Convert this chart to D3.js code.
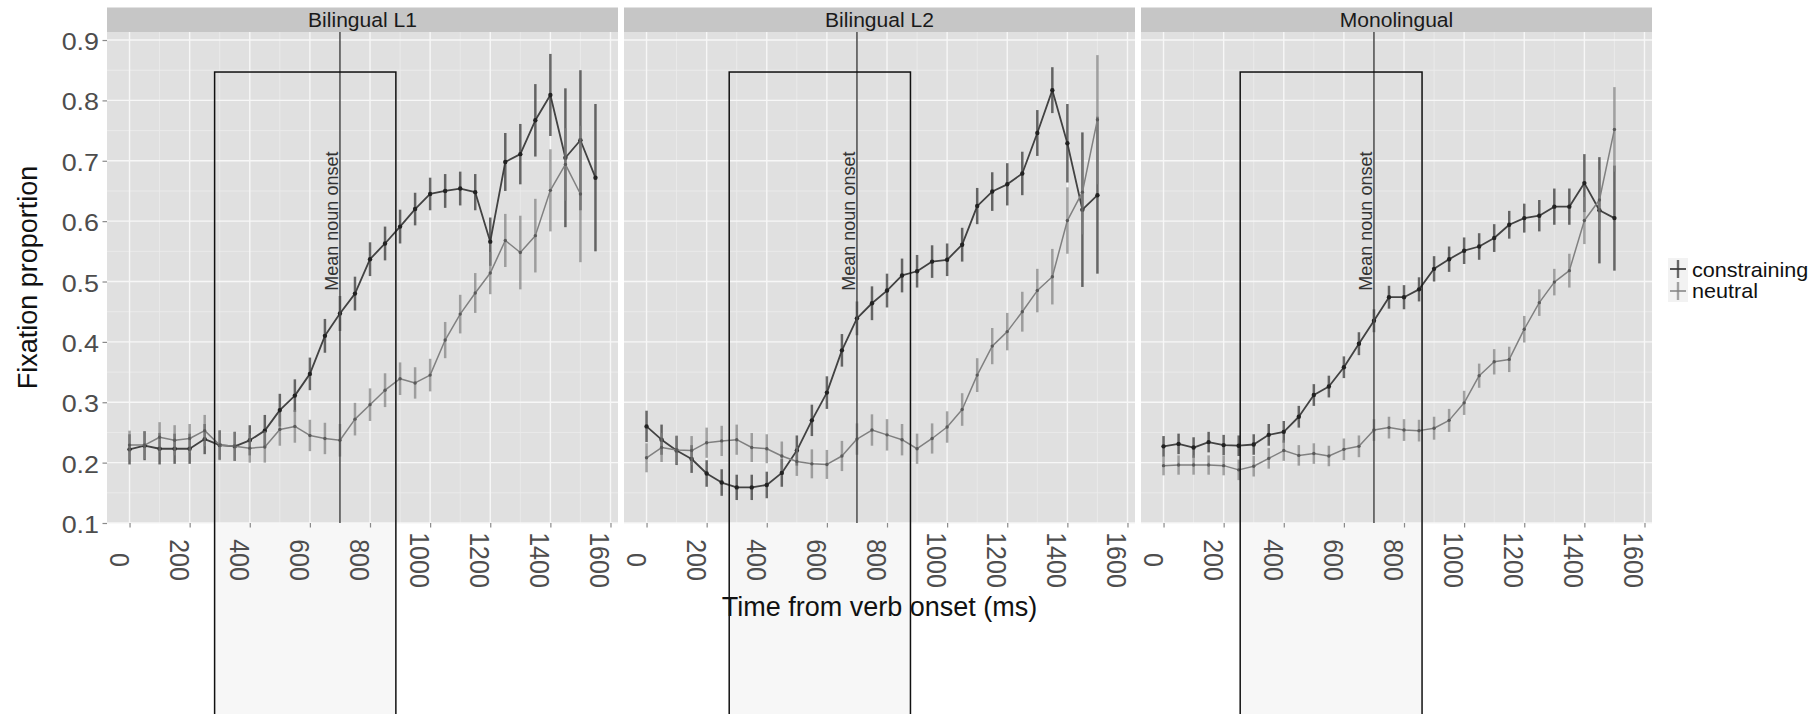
<!DOCTYPE html>
<html>
<head>
<meta charset="utf-8">
<script src="https://cdn.jsdelivr.net/npm/d3@7"></script>
<style>
  body { margin: 0; background: #ffffff; }
  svg { display: block; }
  text { font-family: "Liberation Sans", Arial, Helvetica, sans-serif; }
</style>
</head>
<body>
<svg id="chart" width="1814" height="714"></svg>
<script>
// ---- data -------------------------------------------------------------
const panels = ["Bilingual L1", "Bilingual L2", "Monolingual"];
const conditions = ["constraining", "neutral"];

const times = [0, 50, 100, 150, 200, 250, 300, 350, 400, 450, 500, 550, 600, 650, 700, 750,
               800, 850, 900, 950, 1000, 1050, 1100, 1150, 1200, 1250, 1300, 1350, 1400, 1450, 1500, 1550];

// Bilingual L1
const constrainingL1 = [0.222, 0.228, 0.223, 0.223, 0.223, 0.239, 0.229, 0.227, 0.237, 0.253, 0.287, 0.311, 0.347, 0.410, 0.447, 0.480,
                        0.537, 0.563, 0.591, 0.620, 0.645, 0.650, 0.654, 0.648, 0.566, 0.698, 0.711, 0.767, 0.809, 0.705, 0.734, 0.672];
const constrainingL1Se = [0.025, 0.024, 0.026, 0.025, 0.025, 0.025, 0.024, 0.024, 0.025, 0.026, 0.027, 0.027, 0.027, 0.028, 0.029, 0.028,
                          0.028, 0.028, 0.028, 0.027, 0.027, 0.028, 0.028, 0.030, 0.040, 0.048, 0.050, 0.060, 0.068, 0.115, 0.116, 0.122];
const neutralL1 = [0.229, 0.229, 0.242, 0.237, 0.240, 0.253, 0.229, 0.227, 0.224, 0.226, 0.255, 0.260, 0.245, 0.240, 0.237, 0.272,
                   0.296, 0.320, 0.339, 0.332, 0.345, 0.403, 0.446, 0.481, 0.514, 0.568, 0.548, 0.576, 0.651, 0.694, 0.645];
const neutralL1Se = [0.024, 0.023, 0.025, 0.025, 0.024, 0.026, 0.025, 0.024, 0.024, 0.026, 0.027, 0.027, 0.026, 0.026, 0.027, 0.027,
                     0.027, 0.028, 0.027, 0.026, 0.027, 0.030, 0.032, 0.033, 0.035, 0.044, 0.061, 0.061, 0.068, 0.060, 0.113];

// Bilingual L2
const constrainingL2 = [0.260, 0.238, 0.220, 0.206, 0.182, 0.167, 0.159, 0.159, 0.163, 0.183, 0.220, 0.270, 0.316, 0.386, 0.439, 0.464,
                        0.485, 0.510, 0.517, 0.533, 0.536, 0.561, 0.625, 0.649, 0.661, 0.679, 0.746, 0.817, 0.729, 0.619, 0.643];
const constrainingL2Se = [0.026, 0.025, 0.024, 0.023, 0.022, 0.022, 0.021, 0.021, 0.022, 0.023, 0.025, 0.026, 0.027, 0.027, 0.028, 0.028,
                          0.028, 0.028, 0.027, 0.027, 0.027, 0.028, 0.030, 0.032, 0.035, 0.036, 0.038, 0.038, 0.065, 0.128, 0.130];
const neutralL2 = [0.208, 0.225, 0.221, 0.220, 0.233, 0.236, 0.238, 0.225, 0.223, 0.211, 0.202, 0.198, 0.197, 0.211, 0.239, 0.254,
                   0.246, 0.238, 0.223, 0.240, 0.259, 0.288, 0.345, 0.393, 0.417, 0.450, 0.485, 0.508, 0.601, 0.648, 0.768];
const neutralL2Se = [0.024, 0.024, 0.024, 0.024, 0.025, 0.025, 0.025, 0.024, 0.024, 0.024, 0.024, 0.024, 0.024, 0.025, 0.026, 0.026,
                     0.026, 0.026, 0.025, 0.025, 0.026, 0.027, 0.028, 0.030, 0.031, 0.033, 0.036, 0.046, 0.055, 0.070, 0.107];

// Monolingual
const constrainingMono = [0.227, 0.231, 0.225, 0.234, 0.229, 0.228, 0.230, 0.246, 0.251, 0.276, 0.312, 0.326, 0.358, 0.397, 0.435, 0.474,
                          0.474, 0.487, 0.521, 0.537, 0.551, 0.558, 0.572, 0.594, 0.605, 0.609, 0.624, 0.624, 0.663, 0.618, 0.605];
const constrainingMonoSe = [0.017, 0.017, 0.017, 0.017, 0.017, 0.017, 0.017, 0.018, 0.018, 0.018, 0.018, 0.018, 0.018, 0.019, 0.019, 0.019,
                            0.020, 0.020, 0.021, 0.021, 0.022, 0.022, 0.023, 0.023, 0.024, 0.026, 0.030, 0.030, 0.048, 0.088, 0.087];
const neutralMono = [0.195, 0.196, 0.196, 0.196, 0.195, 0.188, 0.194, 0.207, 0.220, 0.212, 0.215, 0.211, 0.222, 0.227, 0.254, 0.258,
                     0.254, 0.253, 0.257, 0.270, 0.299, 0.344, 0.367, 0.371, 0.421, 0.465, 0.499, 0.518, 0.601, 0.635, 0.752];
const neutralMonoSe = [0.016, 0.016, 0.016, 0.016, 0.016, 0.017, 0.017, 0.017, 0.017, 0.017, 0.017, 0.017, 0.018, 0.018, 0.018, 0.018,
                       0.018, 0.018, 0.019, 0.019, 0.020, 0.020, 0.021, 0.021, 0.022, 0.022, 0.022, 0.028, 0.039, 0.050, 0.070];

// annotations (ms / proportion)
const nounOnset = 700;
const windowStart = [283, 275, 255];
const windowEnd = [886, 878, 860];
const windowTop = 0.847;

// axis ticks
const xTicks = [0, 200, 400, 600, 800, 1000, 1200, 1400, 1600];
const yTicks = [0.1, 0.2, 0.3, 0.4, 0.5, 0.6, 0.7, 0.8, 0.9];
const xDomain = [-75, 1625];
const yDomain = [0.1, 0.9133];

// ---- layout -----------------------------------------------------------
const W = 1814, H = 714;
const stripTop = 7.5, panelTop = 32, panelBottom = 523;
const panelLefts = [107, 624, 1141];
const panelW = 511;

const series = [
  { constraining: constrainingL1, constrainingSe: constrainingL1Se, neutral: neutralL1, neutralSe: neutralL1Se },
  { constraining: constrainingL2, constrainingSe: constrainingL2Se, neutral: neutralL2, neutralSe: neutralL2Se },
  { constraining: constrainingMono, constrainingSe: constrainingMonoSe, neutral: neutralMono, neutralSe: neutralMonoSe }
];

const style = {
  constraining: { line: "#424242", lw: 1.8, bar: "#3a3a3a", barOp: 0.75, dot: "#222222", r: 2.2 },
  neutral:      { line: "#808080", lw: 1.5, bar: "#808080", barOp: 0.7, dot: "#5a5a5a", r: 1.7 }
};

const svg = d3.select("#chart");
const y = d3.scaleLinear().domain(yDomain).range([panelBottom, panelTop]);
const xMinor = d3.pairs(xTicks).map(([a, b]) => (a + b) / 2);
const yMinor = d3.pairs(yTicks).map(([a, b]) => (a + b) / 2);

const xScales = panelLefts.map(l => d3.scaleLinear().domain(xDomain).range([l, l + panelW]));

// window shading sits underneath the panels, so it only shows below them
const shade = svg.append("g");
panels.forEach((name, p) => {
  const x = xScales[p];
  shade.append("rect")
    .attr("x", x(windowStart[p])).attr("y", y(windowTop))
    .attr("width", x(windowEnd[p]) - x(windowStart[p]))
    .attr("height", H - y(windowTop) + 4)
    .attr("fill", "#f7f7f7");
});

panels.forEach((name, p) => {
  const x = xScales[p];
  const g = svg.append("g");

  // strip
  g.append("rect").attr("x", x.range()[0]).attr("y", stripTop)
    .attr("width", panelW).attr("height", panelTop - stripTop).attr("fill", "#c6c6c6");
  g.append("text")
    .attr("transform", `translate(${x.range()[0] + panelW / 2},27.3) scale(1.08,1)`)
    .attr("text-anchor", "middle").attr("font-size", 19.5).attr("fill", "#1a1a1a")
    .text(name);

  // panel background + grid
  g.append("rect").attr("x", x.range()[0]).attr("y", panelTop)
    .attr("width", panelW).attr("height", panelBottom - panelTop).attr("fill", "#e0e0e0");
  const grid = g.append("g");
  grid.selectAll(".xmin").data(xMinor).join("line")
    .attr("x1", d => x(d)).attr("x2", d => x(d)).attr("y1", panelTop).attr("y2", panelBottom)
    .attr("stroke", "#ebebeb").attr("stroke-width", 0.9);
  grid.selectAll(".ymin").data(yMinor).join("line")
    .attr("x1", x.range()[0]).attr("x2", x.range()[1]).attr("y1", d => y(d)).attr("y2", d => y(d))
    .attr("stroke", "#ebebeb").attr("stroke-width", 0.9);
  grid.selectAll(".xmaj").data(xTicks).join("line")
    .attr("x1", d => x(d)).attr("x2", d => x(d)).attr("y1", panelTop).attr("y2", panelBottom)
    .attr("stroke", "#f7f7f7").attr("stroke-width", 1.4);
  grid.selectAll(".ymaj").data(yTicks).join("line")
    .attr("x1", x.range()[0]).attr("x2", x.range()[1]).attr("y1", d => y(d)).attr("y2", d => y(d))
    .attr("stroke", "#f7f7f7").attr("stroke-width", 1.4);

  // x axis
  const xAxis = g.append("g").attr("transform", `translate(0,${panelBottom})`)
    .call(d3.axisBottom(x).tickValues(xTicks).tickSize(4.5).tickPadding(0).tickFormat(d3.format("d")));
  xAxis.select(".domain").remove();
  xAxis.selectAll(".tick line").attr("stroke", "#8a8a8a").attr("stroke-width", 1.2);
  xAxis.selectAll(".tick text")
    .attr("y", null).attr("dy", null)
    .attr("transform", "translate(-20.5,37) rotate(90) scale(1,1.12)")
    .attr("text-anchor", "middle")
    .attr("font-size", 25).attr("fill", "#4d4d4d");

  // data: lines, error bars, points
  const s = series[p];
  conditions.forEach(c => {
    const vals = s[c], se = s[c + "Se"], st = style[c];
    const pts = vals.map((v, i) => ({ t: times[i], v, e: se[i] }));
    const sg = g.append("g");
    sg.append("path").datum(pts)
      .attr("d", d3.line().x(d => x(d.t)).y(d => y(d.v)))
      .attr("fill", "none").attr("stroke", st.line).attr("stroke-width", st.lw)
      .attr("stroke-linejoin", "round");
    sg.selectAll(".eb").data(pts).join("line")
      .attr("x1", d => x(d.t)).attr("x2", d => x(d.t))
      .attr("y1", d => y(d.v - d.e)).attr("y2", d => y(d.v + d.e))
      .attr("stroke", st.bar).attr("stroke-opacity", st.barOp).attr("stroke-width", 2.5);
    sg.selectAll(".pt").data(pts).join("circle")
      .attr("cx", d => x(d.t)).attr("cy", d => y(d.v)).attr("r", st.r)
      .attr("fill", st.dot);
  });

  // noun onset line + label
  g.append("line")
    .attr("x1", x(nounOnset)).attr("x2", x(nounOnset))
    .attr("y1", panelTop).attr("y2", panelBottom)
    .attr("stroke", "#4a4a4a").attr("stroke-width", 1.5);
  g.append("text")
    .attr("transform", `translate(${x(nounOnset) - 2},${y(0.6)}) rotate(-90)`)
    .attr("text-anchor", "middle").attr("font-size", 18).attr("fill", "#333333")
    .text("Mean noun onset");
});

// y axis (left of first panel)
const yAxis = svg.append("g").attr("transform", `translate(${panelLefts[0]},0)`)
  .call(d3.axisLeft(y).tickValues(yTicks).tickSize(4.5).tickPadding(0).tickFormat(d3.format(".1f")));
yAxis.select(".domain").remove();
yAxis.selectAll(".tick line").attr("stroke", "#8a8a8a").attr("stroke-width", 1.2);
yAxis.selectAll(".tick text")
  .attr("x", null).attr("dy", null)
  .attr("transform", "translate(-8,9.5) scale(1.12,1)")
  .attr("text-anchor", "end").attr("font-size", 24).attr("fill", "#4d4d4d");

// window outlines on top, running off the bottom edge
panels.forEach((name, p) => {
  const x = xScales[p];
  svg.append("rect")
    .attr("x", x(windowStart[p])).attr("y", y(windowTop))
    .attr("width", x(windowEnd[p]) - x(windowStart[p]))
    .attr("height", H - y(windowTop) + 4)
    .attr("fill", "none")
    .attr("stroke", "#111111").attr("stroke-width", 1.5);
});

// axis titles
svg.append("text")
  .attr("x", (panelLefts[0] + panelLefts[2] + panelW) / 2).attr("y", 616)
  .attr("text-anchor", "middle").attr("font-size", 27).attr("fill", "#111111")
  .text("Time from verb onset (ms)");
svg.append("text")
  .attr("transform", `translate(37,${(panelTop + panelBottom) / 2}) rotate(-90)`)
  .attr("text-anchor", "middle").attr("font-size", 27).attr("fill", "#111111")
  .text("Fixation proportion");

// legend
const legend = svg.append("g").attr("transform", "translate(1668,258)");
conditions.forEach((c, i) => {
  const st = style[c];
  const k = legend.append("g").attr("transform", `translate(0,${i * 22})`);
  k.append("rect").attr("width", 20).attr("height", 22).attr("fill", "#f2f2f2");
  k.append("line").attr("x1", 2).attr("x2", 18).attr("y1", 11).attr("y2", 11)
    .attr("stroke", st.line).attr("stroke-width", st.lw);
  k.append("line").attr("x1", 10).attr("x2", 10).attr("y1", 2).attr("y2", 20)
    .attr("stroke", st.bar).attr("stroke-opacity", st.barOp).attr("stroke-width", 2.4);
  k.append("text").attr("transform", `translate(24,${18.5 - i * 0.5}) scale(1.08,1)`)
    .attr("font-size", 20).attr("fill", "#111111").text(c);
});
</script>
</body>
</html>
